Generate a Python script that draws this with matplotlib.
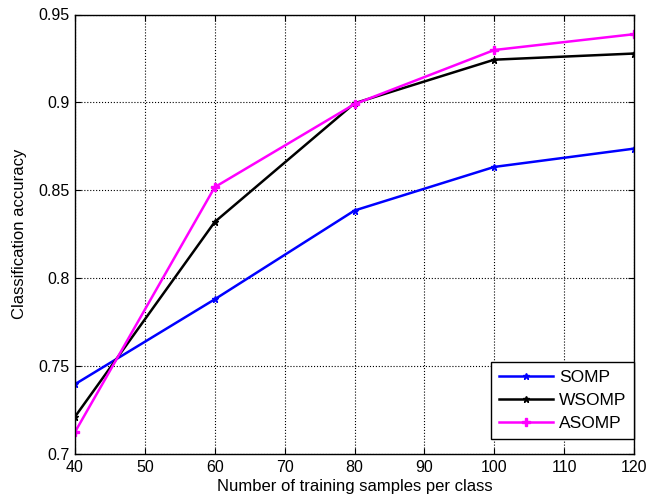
import matplotlib
matplotlib.use("Agg")
import matplotlib.pyplot as plt

plt.rcParams['font.family'] = ['Liberation Sans', 'DejaVu Sans']

samples = [40, 60, 80, 100, 120]
somp = [0.7397, 0.788, 0.8385, 0.8633, 0.8737]
wsomp = [0.7212, 0.832, 0.8995, 0.9243, 0.9278]
asomp = [0.7125, 0.8518, 0.8990, 0.9298, 0.9388]
xticks = [40, 50, 60, 70, 80, 90, 100, 110, 120]
yticks = [0.7, 0.75, 0.8, 0.85, 0.9, 0.95]
ytick_labels = ['0.7', '0.75', '0.8', '0.85', '0.9', '0.95']

fig = plt.figure(figsize=(6.51, 4.99), dpi=100)
L, R, T, B = 75, 634, 14.5, 454
ax = fig.add_axes([L/651, 1-B/499, (R-L)/651, (B-T)/499])

ax.plot(samples, somp, color='#0000ff', lw=1.8, marker='*', ms=5, label='SOMP')
ax.plot(samples, wsomp, color='black', lw=1.8, marker='*', ms=5, label='WSOMP')
ax.plot(samples, asomp, color='#ff00ff', lw=1.8, marker='P', ms=6, label='ASOMP')

ax.set_xlim(40, 120)
ax.set_ylim(0.7, 0.95)
ax.set_xticks(xticks)
ax.set_yticks(yticks)
ax.set_yticklabels(ytick_labels)
ax.tick_params(direction='in', labelsize=11.5, length=4, top=True, right=True, pad=4)
ax.grid(True, color='black', linestyle=':', linewidth=0.8)
for s in ax.spines.values():
    s.set_linewidth(1)
ax.set_xlabel('Number of training samples per class', fontsize=12, labelpad=3)
ax.set_ylabel('Classification accuracy', fontsize=12, labelpad=8)

leg = ax.legend(loc='lower right', bbox_to_anchor=(1.0, 15/(B-T)), borderaxespad=0,
                fontsize=12.5, fancybox=False, framealpha=1, edgecolor='black',
                handlelength=3.1, handletextpad=0.35, borderpad=0.45, labelspacing=0.45)
leg.get_frame().set_linewidth(1)

fig.savefig('out.png', dpi=100)
